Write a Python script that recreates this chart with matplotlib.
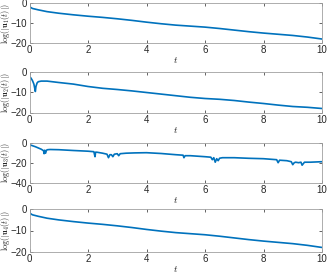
import matplotlib
matplotlib.use("Agg")
import matplotlib.pyplot as plt
import numpy as np

# log|u_i(t)|
t1 = [0, 0.03, 0.1, 0.3, 0.6, 1, 1.5, 2, 2.5, 3, 3.5, 4, 4.5, 5, 5.5, 6, 6.5, 7, 7.5, 8, 8.5, 9, 9.5, 10]
u1 = [-1.0, -2.0, -2.6, -3.3, -4.2, -5.0, -5.8, -6.5, -7.1, -7.8, -8.6, -9.5, -10.3, -11.0, -11.5, -12.0, -12.7, -13.5, -14.3, -15.0, -15.6, -16.2, -17.0, -18.0]

t2 = [0, 0.05, 0.1, 0.15, 0.18, 0.2, 0.22, 0.26, 0.3, 0.4, 0.6, 1, 1.5, 2, 2.5, 3, 3.5, 4, 4.5, 5, 5.5, 6, 6.5, 7, 7.5, 8, 8.5, 9, 9.5, 10]
u2 = [-2.0, -2.8, -4.0, -5.8, -8.0, -9.5, -7.0, -5.2, -4.6, -4.3, -4.3, -5.0, -5.8, -7.0, -7.9, -8.5, -9.2, -10.0, -10.8, -11.6, -12.4, -13.0, -13.4, -14.0, -14.8, -15.5, -16.3, -17.0, -17.4, -18.0]

t3 = [0, 0.2, 0.4, 0.48, 0.5, 0.52, 0.55, 0.58, 0.62, 0.7, 1, 1.5, 2, 2.2, 2.24, 2.26, 2.3, 2.5, 2.65, 2.7, 2.75, 2.8, 2.85, 2.9, 3.0, 3.05, 3.1, 3.3, 3.6, 4, 4.5, 5, 5.25, 5.28, 5.32, 5.5, 6, 6.2, 6.25, 6.3, 6.35, 6.4, 6.45, 6.5, 6.6, 7, 7.5, 8, 8.45, 8.5, 8.55, 8.8, 8.95, 9.0, 9.05, 9.1, 9.2, 9.28, 9.32, 9.4, 9.6, 10]
u3 = [-2.0, -4.0, -6.5, -8.0, -11.0, -7.5, -10.5, -7.5, -7.0, -6.8, -7.0, -7.8, -8.5, -9.0, -14.0, -9.5, -9.5, -10.5, -11.5, -15.0, -12.0, -12.0, -14.0, -11.5, -11.0, -13.0, -11.0, -10.5, -10.2, -10.0, -10.8, -12.0, -12.5, -15.0, -13.0, -13.0, -14.0, -14.5, -17.0, -15.0, -19.5, -16.0, -18.0, -15.5, -15.0, -15.0, -15.6, -16.0, -17.0, -20.0, -17.5, -18.0, -19.0, -22.0, -20.0, -19.5, -20.0, -19.5, -22.5, -19.5, -19.5, -19.0]

t4 = [0, 0.03, 0.1, 0.3, 0.6, 1, 1.5, 2, 2.5, 3, 3.5, 4, 4.5, 5, 5.5, 6, 6.5, 7, 7.5, 8, 8.5, 9, 9.5, 10]
u4 = [-1.0, -2.0, -2.6, -3.3, -4.2, -5.0, -5.8, -6.5, -7.1, -7.8, -8.6, -9.5, -10.3, -11.0, -11.5, -12.0, -12.7, -13.5, -14.3, -15.0, -15.6, -16.2, -17.0, -18.0]

series = [(t1, u1), (t2, u2), (t3, u3), (t4, u4)]
ylims = [(-20, 0), (-20, 0), (-40, 0), (-20, 0)]
yticks = [[-20, -10, 0], [-20, -10, 0], [-40, -20, 0], [-20, -10, 0]]
ylabels = [r"$\log(|\mathbf{u}_1(t)|)$", r"$\log(|\mathbf{u}_2(t)|)$",
           r"$\log(|\mathbf{u}_3(t)|)$", r"$\log(|\mathbf{u}_4(t)|)$"]
xticks = [0, 2, 4, 6, 8, 10]

plt.rcParams["mathtext.fontset"] = "cm"
plt.rcParams["font.family"] = ["Liberation Sans", "DejaVu Sans"]

fig = plt.figure(figsize=(3.27, 2.73), dpi=100)
W, H = 327.0, 273.0
left, right = 29.5, 322.0
boxes = [(3.3, 43.0), (72.5, 112.5), (142.7, 182.7), (209.3, 251.7)]

for (top, bot), (t, u), yl, yt, lab in zip(boxes, series, ylims, yticks, ylabels):
    ax = fig.add_axes([left / W, 1 - bot / H, (right - left) / W, (bot - top) / H])
    ax.plot(t, u, color="#0072BD", linewidth=1.2)
    ax.set_xlim(0, 10)
    ax.set_ylim(*yl)
    ax.set_xticks(xticks)
    ax.set_yticks(yt)
    ax.tick_params(direction="in", length=2, width=0.5, labelsize=7, colors="#262626",
                   top=True, right=True, pad=1.5)
    for s in ax.spines.values():
        s.set_color("#a0a0a0")
        s.set_linewidth(0.6)
    ax.set_ylabel(lab, fontsize=6, color="#262626")
    ax.yaxis.set_label_coords(-0.061, 0.5)
    ax.set_xlabel(r"$t$", fontsize=7, labelpad=0, color="#262626")

fig.savefig("out.png", dpi=100)
